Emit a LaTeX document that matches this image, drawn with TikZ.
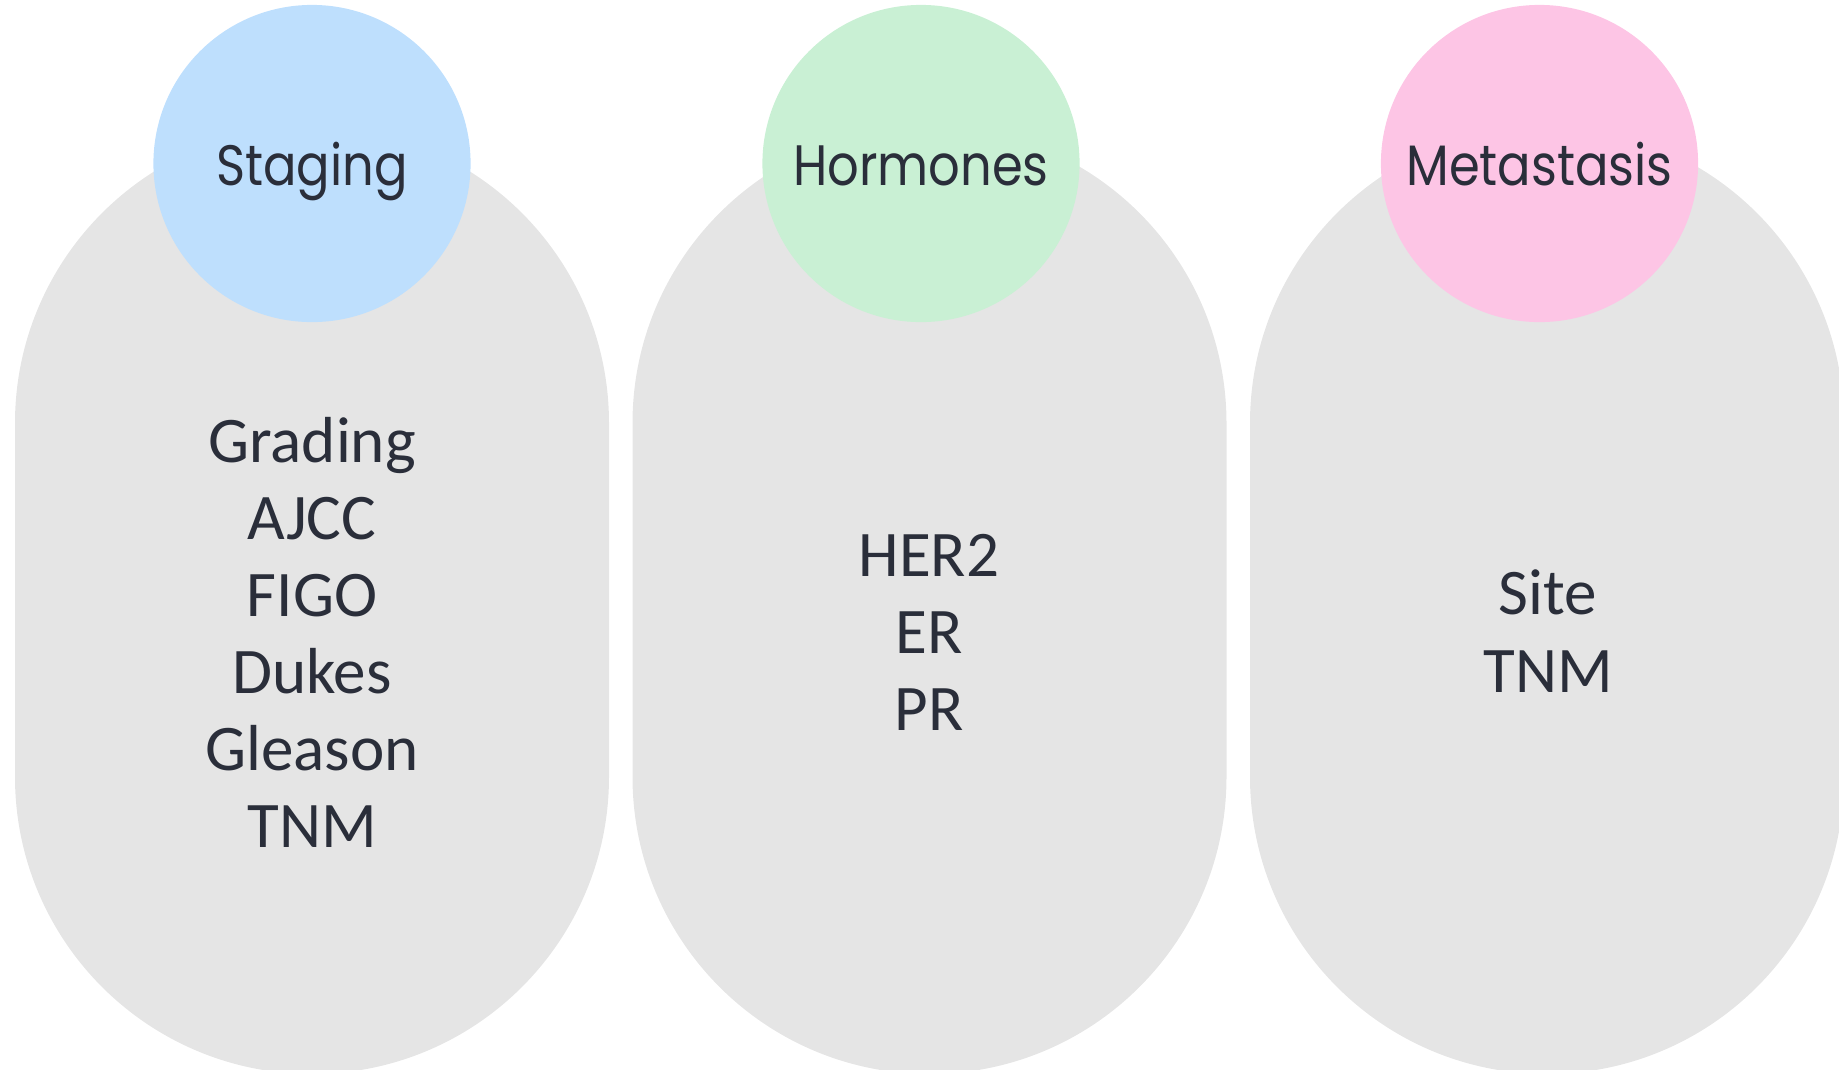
\documentclass[tikz,border=0pt]{standalone}
\usepackage{fontspec}
\setmainfont{Carlito}
\newfontfamily\headfont[FakeStretch=0.87]{Poppins}

\definecolor{pillgray}{HTML}{E5E5E5}
\definecolor{stageblue}{HTML}{BEDFFD}
\definecolor{hormgreen}{HTML}{C9F0D4}
\definecolor{metapink}{HTML}{FDC5E5}
\definecolor{inkdark}{HTML}{2A2E3A}

\tikzset{
  pillbox/.style={fill=pillgray, rounded corners=2.97cm},
  headcirc/.style={circle, inner sep=0pt, minimum size=3.17cm,
    text height=0.43cm, text depth=0cm, text=inkdark,
    font=\headfont\fontsize{16.2}{19}\selectfont},
  itemtext/.style={anchor=base, inner sep=0pt, text=inkdark,
    font=\fontsize{18.5}{22}\selectfont}
}

\begin{document}
\begin{tikzpicture}[x=0.01cm,y=-0.01cm]

\useasboundingbox (0,0) rectangle (1839,1069);
\clip (0,0) rectangle (1839,1069);

% Grey pills, one per column
\foreach \bx in {312,929.5,1547} {
    \fill[pillbox] (\bx-297,126) rectangle (\bx+297,1074);
}

% Heading circles
\node[headcirc, fill=stageblue] (staging) at (312,163.5) {Staging};
\node[headcirc, fill=hormgreen] (hormones) at (921,163.5) {Hormones};
\node[headcirc, fill=metapink] (metastasis) at (1539.5,163.5) {Metastasis};

% Items under each heading
\foreach \t [count=\j from 0] in {Grading,AJCC,FIGO,Dukes,Gleason,TNM}
    \node[itemtext] (stage\j) at (312,462+77*\j) {\t};

\foreach \t [count=\j from 0] in {HER2,ER,PR}
    \node[itemtext] (horm\j) at (929,576+77*\j) {\t};

\foreach \t [count=\j from 0] in {Site,TNM}
    \node[itemtext] (meta\j) at (1548,614+78*\j) {\t};

\end{tikzpicture}
\end{document}
